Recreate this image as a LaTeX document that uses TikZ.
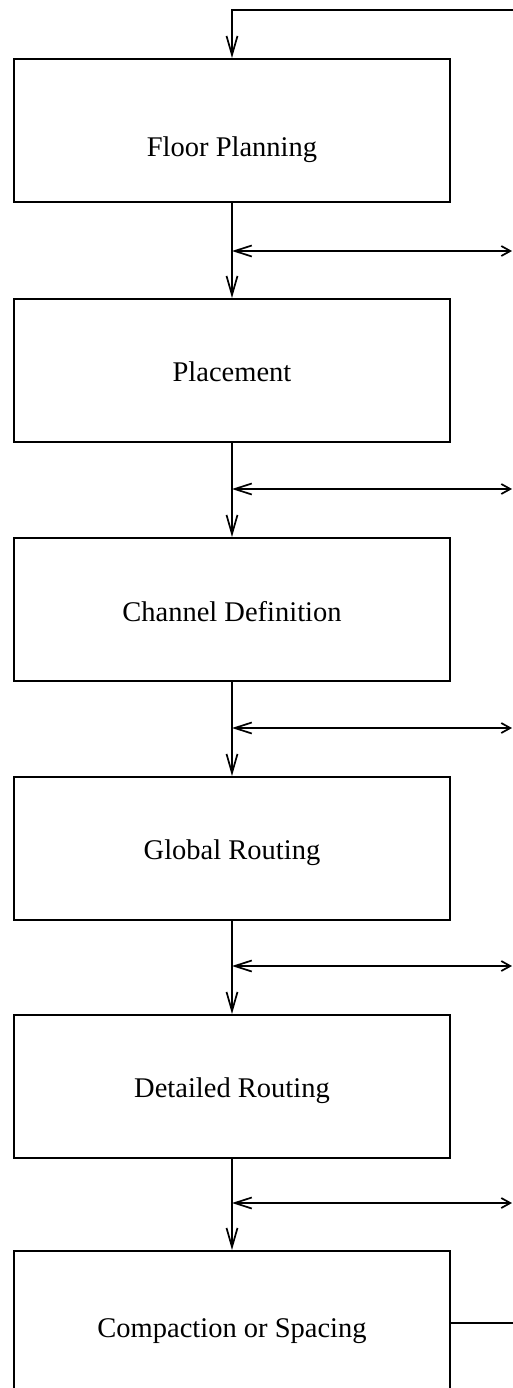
\documentclass[tikz,border=0pt]{standalone}
\usepackage{fontspec}
\setmainfont{Liberation Serif}
\usetikzlibrary{arrows.meta}
\begin{document}
\begin{tikzpicture}[x=1pt,y=-1pt,
  stagebox/.style={draw, line width=1.9pt, minimum width=436pt, minimum height=143pt,
                   inner sep=0pt, anchor=north},
  stagetext/.style={font=\fontsize{28.5}{34}\selectfont, anchor=base, inner sep=0pt},
  flow/.style={line width=1.9pt},
  downtip/.style={-{Straight Barb[length=19pt,width=11pt,line width=1.7pt]}},
  sidetips/.style={{Straight Barb[length=17pt,width=11pt,line width=1.7pt]}-{Straight Barb[length=9pt,width=10pt,line width=1.7pt]}}
]
\clip (0,0) rectangle (513,1388);
\fill[white] (0,0) rectangle (513,1388);

% stages of the flow
\node[stagebox] (fp) at (232,58)   {};
\node[stagebox] (pl) at (232,298)  {};
\node[stagebox] (cd) at (232,537)  {};
\node[stagebox] (gr) at (232,776)  {};
\node[stagebox] (dr) at (232,1014) {};
\node[stagebox] (cs) at (232,1250) {};

\node[stagetext] (fp-t) at (232,157)  {Floor Planning};
\node[stagetext] (pl-t) at (232,381)  {Placement};
\node[stagetext] (cd-t) at (232,621)  {Channel Definition};
\node[stagetext] (gr-t) at (232,859)  {Global Routing};
\node[stagetext] (dr-t) at (232,1097) {Detailed Routing};
\node[stagetext] (cs-t) at (232,1337) {Compaction or Spacing};

% junctions on the connectors and the far ends of the side arrows
\foreach \n/\y in {1/251, 2/489, 3/728, 4/966, 5/1203} {
  \coordinate (j\n) at (232,\y);
  \coordinate (r\n) at (512,\y);
}

% downward connectors between consecutive stages
\draw[flow,downtip] (fp.south) -- (pl.north);
\draw[flow,downtip] (pl.south) -- (cd.north);
\draw[flow,downtip] (cd.south) -- (gr.north);
\draw[flow,downtip] (gr.south) -- (dr.north);
\draw[flow,downtip] (dr.south) -- (cs.north);

% two-way side arrows
\foreach \n in {1,...,5} {
  \draw[flow,sidetips] (j\n) -- (r\n);
}

% feedback loop: out of the last stage, back into the first
\coordinate (fbout) at (514,1323);
\coordinate (fbin)  at (514,10);
\draw[flow] (cs.east |- fbout) -- (fbout);
\draw[flow,downtip] (fbin) -- (fp.north |- fbin) -- (fp.north);
\end{tikzpicture}
\end{document}
